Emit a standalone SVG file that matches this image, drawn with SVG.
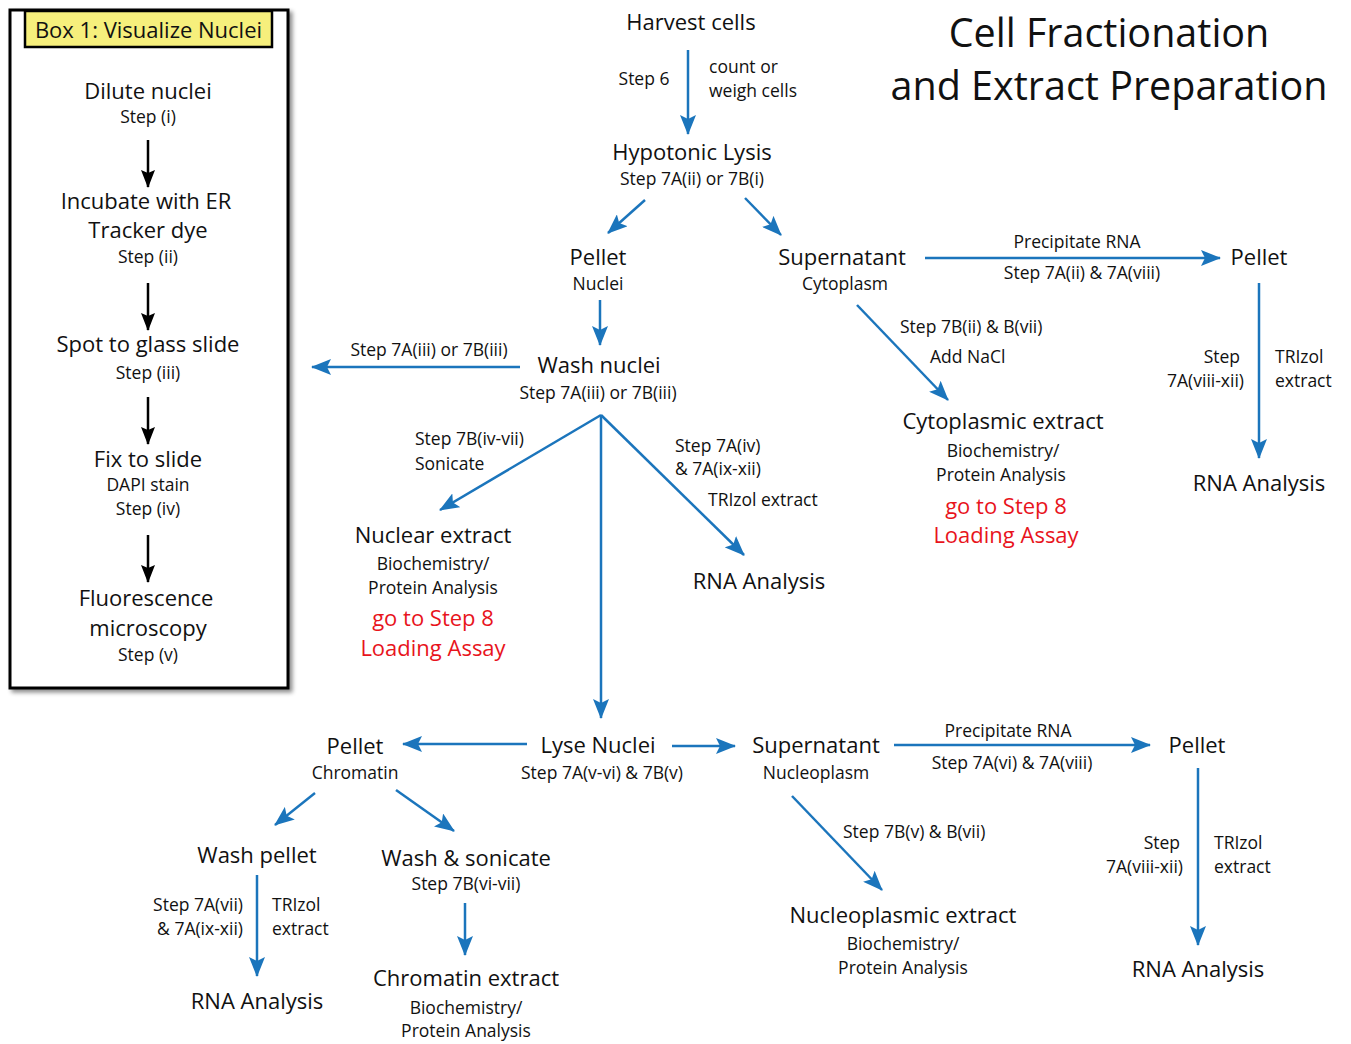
<svg xmlns="http://www.w3.org/2000/svg" width="1351" height="1044" viewBox="0 0 1351 1044">
<style>
text{font-family:"Open Sans","Noto Sans",sans-serif;fill:#111}
.l{font-size:22px;text-anchor:middle}
.s{font-size:17.5px;text-anchor:middle}
.sl{font-size:17.5px;text-anchor:start}
.sr{font-size:17.5px;text-anchor:end}
.r{font-size:22px;text-anchor:middle;fill:#e8141c}
.t{font-size:39.5px;text-anchor:middle}
.c{stroke:#1b75bc;stroke-width:2.5;fill:none;marker-end:url(#ab)}
.k{stroke:#000;stroke-width:2.5;fill:none;marker-end:url(#ak)}
</style>
<defs>
<marker id="ab" markerUnits="userSpaceOnUse" markerWidth="20" markerHeight="16" refX="19" refY="8" orient="auto"><path d="M0,0 L20,8 L0,16 L4,8 z" fill="#1b75bc"/></marker>
<marker id="ak" markerUnits="userSpaceOnUse" markerWidth="18" markerHeight="14" refX="17" refY="7" orient="auto"><path d="M0,0 L18,7 L0,14 L3,7 z" fill="#000"/></marker>
<filter id="sh" x="-10%" y="-10%" width="120%" height="120%"><feDropShadow dx="3" dy="3" stdDeviation="2" flood-color="#000" flood-opacity="0.45"/></filter>
</defs>
<rect width="1351" height="1044" fill="#fff"/>

<g id="box1">
<rect x="10" y="10" width="278" height="678" fill="#fff" stroke="#000" stroke-width="3" filter="url(#sh)"/>
<rect x="25" y="11" width="247" height="36" fill="#f6ef7c" stroke="#000" stroke-width="2.5"/>
<text class="l" x="148.5" y="38">Box 1: Visualize Nuclei</text>
<g id="b-dilute"><text class="l" x="148" y="99">Dilute nuclei</text><text class="s" x="148" y="123">Step (i)</text></g>
<g id="b-incubate"><text class="l" x="146" y="209">Incubate with ER</text><text class="l" x="148" y="238">Tracker dye</text><text class="s" x="148" y="263">Step (ii)</text></g>
<g id="b-spot"><text class="l" x="148" y="352">Spot to glass slide</text><text class="s" x="148" y="379">Step (iii)</text></g>
<g id="b-fix"><text class="l" x="148" y="467">Fix to slide</text><text class="s" x="148" y="491">DAPI stain</text><text class="s" x="148" y="515">Step (iv)</text></g>
<g id="b-fluor"><text class="l" x="146" y="606">Fluorescence</text><text class="l" x="148" y="636">microscopy</text><text class="s" x="148" y="661">Step (v)</text></g>
<g id="b-arrows">
<line class="k" x1="148" y1="140" x2="148" y2="187"/>
<line class="k" x1="148" y1="283" x2="148" y2="330"/>
<line class="k" x1="148" y1="397" x2="148" y2="444"/>
<line class="k" x1="148" y1="535" x2="148" y2="582"/>
</g>
</g>

<g id="title"><text class="t" x="1109" y="47">Cell Fractionation</text><text class="t" x="1109" y="100">and Extract Preparation</text></g>

<g id="harvest"><text class="l" x="691" y="30">Harvest cells</text></g>
<g id="hypotonic"><text class="l" x="692" y="160">Hypotonic Lysis</text><text class="s" x="692" y="185">Step 7A(ii) or 7B(i)</text></g>
<g id="pellet-nuclei"><text class="l" x="598" y="265">Pellet</text><text class="s" x="598" y="290">Nuclei</text></g>
<g id="supernatant-cyto"><text class="l" x="842" y="265">Supernatant</text><text class="s" x="845" y="290">Cytoplasm</text></g>
<g id="pellet-rna1"><text class="l" x="1259" y="265">Pellet</text></g>
<g id="rna1"><text class="l" x="1259" y="491">RNA Analysis</text></g>
<g id="cyto-extract"><text class="l" x="1003" y="429">Cytoplasmic extract</text><text class="s" x="1003" y="457">Biochemistry/</text><text class="s" x="1001" y="481">Protein Analysis</text><text class="r" x="1006" y="514">go to Step 8</text><text class="r" x="1006" y="543">Loading Assay</text></g>
<g id="wash-nuclei"><text class="l" x="599" y="373">Wash nuclei</text><text class="s" x="598" y="399">Step 7A(iii) or 7B(iii)</text></g>
<g id="nuclear-extract"><text class="l" x="433" y="543">Nuclear extract</text><text class="s" x="433" y="570">Biochemistry/</text><text class="s" x="433" y="594">Protein Analysis</text><text class="r" x="433" y="626">go to Step 8</text><text class="r" x="433" y="656">Loading Assay</text></g>
<g id="rna2"><text class="l" x="759" y="589">RNA Analysis</text></g>
<g id="lyse"><text class="l" x="598" y="753">Lyse Nuclei</text><text class="s" x="602" y="779">Step 7A(v-vi) &amp; 7B(v)</text></g>
<g id="pellet-chromatin"><text class="l" x="355" y="754">Pellet</text><text class="s" x="355" y="779">Chromatin</text></g>
<g id="wash-pellet"><text class="l" x="257" y="863">Wash pellet</text></g>
<g id="rna3"><text class="l" x="257" y="1009">RNA Analysis</text></g>
<g id="wash-sonicate"><text class="l" x="466" y="866">Wash &amp; sonicate</text><text class="s" x="466" y="890">Step 7B(vi-vii)</text></g>
<g id="chromatin-extract"><text class="l" x="466" y="986">Chromatin extract</text><text class="s" x="466" y="1014">Biochemistry/</text><text class="s" x="466" y="1037">Protein Analysis</text></g>
<g id="supernatant-nucleo"><text class="l" x="816" y="753">Supernatant</text><text class="s" x="816" y="779">Nucleoplasm</text></g>
<g id="pellet-rna2"><text class="l" x="1197" y="753">Pellet</text></g>
<g id="rna4"><text class="l" x="1198" y="977">RNA Analysis</text></g>
<g id="nucleo-extract"><text class="l" x="903" y="923">Nucleoplasmic extract</text><text class="s" x="903" y="950">Biochemistry/</text><text class="s" x="903" y="974">Protein Analysis</text></g>

<g id="connectors">
<line class="c" x1="688" y1="50" x2="688" y2="134"/>
<line class="c" x1="645" y1="200" x2="608" y2="233"/>
<line class="c" x1="745" y1="198" x2="781" y2="235"/>
<line class="c" x1="600" y1="300" x2="600" y2="345"/>
<line class="c" x1="925" y1="258" x2="1220" y2="258"/>
<line class="c" x1="1259" y1="283" x2="1259" y2="458"/>
<line class="c" x1="857" y1="305" x2="948" y2="400"/>
<line class="c" x1="520" y1="367" x2="312" y2="367"/>
<line class="c" x1="601" y1="415" x2="440" y2="510"/>
<line class="c" x1="601" y1="415" x2="601" y2="718"/>
<line class="c" x1="601" y1="415" x2="744" y2="555"/>
<line class="c" x1="527" y1="744" x2="403" y2="744"/>
<line class="c" x1="672" y1="746" x2="735" y2="746"/>
<line class="c" x1="315" y1="793" x2="275" y2="825"/>
<line class="c" x1="396" y1="790" x2="454" y2="831"/>
<line class="c" x1="257" y1="875" x2="257" y2="976"/>
<line class="c" x1="465" y1="903" x2="465" y2="955"/>
<line class="c" x1="894" y1="745" x2="1150" y2="745"/>
<line class="c" x1="1198" y1="768" x2="1198" y2="945"/>
<line class="c" x1="792" y1="796" x2="882" y2="890"/>
<g id="connector-labels">
<text class="s" x="644" y="85">Step 6</text>
<text class="sl" x="709" y="73">count or</text>
<text class="sl" x="709" y="97">weigh cells</text>
<text class="s" x="1077" y="248">Precipitate RNA</text>
<text class="s" x="1082" y="279">Step 7A(ii) &amp; 7A(viii)</text>
<text class="sr" x="1240" y="363">Step</text>
<text class="sr" x="1244" y="387">7A(viii-xii)</text>
<text class="sl" x="1275" y="363">TRIzol</text>
<text class="sl" x="1275" y="387">extract</text>
<text class="sl" x="900" y="333">Step 7B(ii) &amp; B(vii)</text>
<text class="sl" x="930" y="363">Add NaCl</text>
<text class="s" x="429" y="356">Step 7A(iii) or 7B(iii)</text>
<text class="sl" x="415" y="445">Step 7B(iv-vii)</text>
<text class="sl" x="415" y="470">Sonicate</text>
<text class="sl" x="675" y="452">Step 7A(iv)</text>
<text class="sl" x="675" y="475">&amp; 7A(ix-xii)</text>
<text class="sl" x="708" y="506">TRIzol extract</text>
<text class="sr" x="243" y="911">Step 7A(vii)</text>
<text class="sr" x="243" y="935">&amp; 7A(ix-xii)</text>
<text class="sl" x="272" y="911">TRIzol</text>
<text class="sl" x="272" y="935">extract</text>
<text class="s" x="1008" y="737">Precipitate RNA</text>
<text class="s" x="1012" y="769">Step 7A(vi) &amp; 7A(viii)</text>
<text class="sr" x="1180" y="849">Step</text>
<text class="sr" x="1183" y="873">7A(viii-xii)</text>
<text class="sl" x="1214" y="849">TRIzol</text>
<text class="sl" x="1214" y="873">extract</text>
<text class="sl" x="843" y="838">Step 7B(v) &amp; B(vii)</text>
</g>
</g>
</svg>
